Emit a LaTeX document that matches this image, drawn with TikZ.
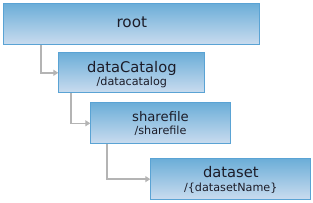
\documentclass[tikz,border=0pt]{standalone}
\usepackage{fontspec}
\setmainfont{DejaVu Sans}
\usetikzlibrary{arrows.meta,shadings}
\definecolor{topc}{HTML}{6CAED8}
\definecolor{botc}{HTML}{CADCEF}
\definecolor{bordc}{HTML}{5AA3D4}
\definecolor{connc}{HTML}{B4B4B4}
\definecolor{txtc}{HTML}{1C1C28}
\tikzset{
  box/.style={draw=bordc, line width=1pt, top color=topc, bottom color=botc,
    rectangle, anchor=north west, inner sep=0pt},
  title/.style={font=\fontsize{14.7}{17}\selectfont, anchor=base, text=txtc, inner sep=0pt},
  sub/.style={font=\fontsize{11.2}{13}\selectfont, anchor=base, text=txtc, inner sep=0pt},
  conn/.style={draw=connc, line width=1.6pt, -{Triangle[length=5pt,width=6pt]}}
}
\begin{document}
\begin{tikzpicture}[x=1pt,y=-1pt]
\useasboundingbox (0,0) rectangle (313,202);
\node[box, minimum width=256pt, minimum height=41pt] (root) at (3.3,3.3) {};
\node[box, minimum width=146pt, minimum height=40pt] (dc) at (58.3,52.3) {};
\node[box, minimum width=139.4pt, minimum height=41pt] (sf) at (90.3,102.3) {};
\node[box, minimum width=160pt, minimum height=40.7pt] (ds) at (150.3,158.3) {};

\node[title, font=\fontsize{15.2}{18}\selectfont] (roott) at ([yshift=-24.4pt]root.north) {root};
\node[title] (dct) at ([yshift=-20pt]dc.north) {dataCatalog};
\node[sub] (dcs) at ([yshift=-32.8pt]dc.north) {/datacatalog};
\node[title, font=\fontsize{13.2}{16}\selectfont] (sft) at ([yshift=-19.6pt]sf.north) {sharefile};
\node[sub] (sfs) at ([yshift=-32pt]sf.north) {/sharefile};
\node[title] (dst) at ([yshift=-19.4pt]ds.north) {dataset};
\node[sub] (dss) at ([yshift=-33.4pt]ds.north) {/\{datasetName\}};

\draw[conn] ([xshift=37.7pt]root.south west) |- (dc.west);
\draw[conn] ([xshift=12.7pt]dc.south west) |- (sf.west);
\draw[conn] ([xshift=16.7pt]sf.south west) |- (ds.west);
\end{tikzpicture}
\end{document}
